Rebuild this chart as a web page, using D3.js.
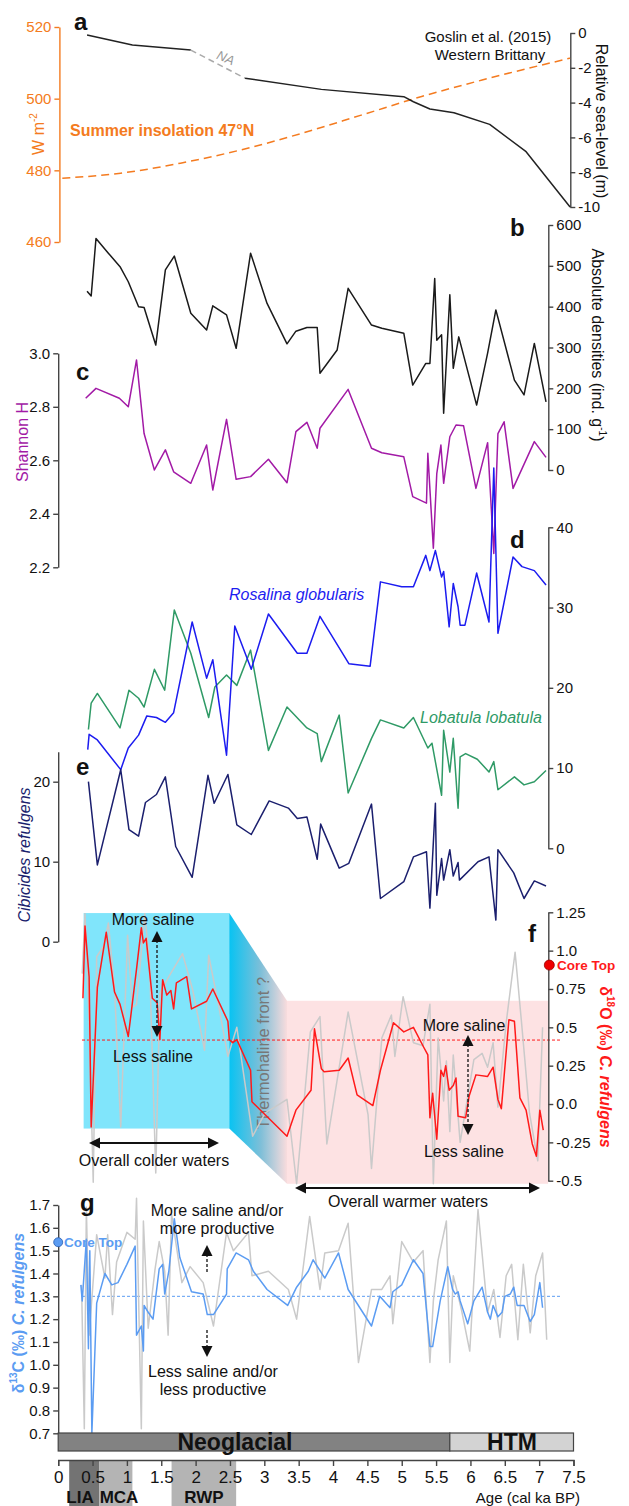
<!DOCTYPE html>
<meta charset="utf-8">
<style>
body { margin: 0; background: #fff; }
svg { font-family: "Liberation Sans", Arial, sans-serif; }
.axis path, .axis line { stroke: #444; stroke-width: 1.4; }
.axis text { fill: #111; }
.data { fill: none; stroke-width: 1.5; stroke-linejoin: round; }
</style>
<svg width="629" height="1506"></svg>
<script src="https://d3js.org/d3.v7.min.js"></script>
<script>

// ---- data (age in cal ka BP, value) ----
var ageTicks = [0, 0.5, 1, 1.5, 2, 2.5, 3, 3.5, 4, 4.5, 5, 5.5, 6, 6.5, 7, 7.5];

// a: relative sea level (Goslin et al. 2015) and summer insolation 47N
var seaLevel = [[0.42, -0.11], [1.08, -0.69], [1.93, -0.98], [2.72, -2.6], [3.83, -3.24], [5.03, -3.66],
  [5.17, -3.95], [5.41, -4.37], [5.76, -4.58], [6.28, -5.25], [6.81, -6.82], [7.45, -10]];
var seaGap = [1.93, 2.72];
var insolation = [[0.06, 477.8], [0.91, 479.2], [1.78, 482.0], [2.66, 485.7], [3.54, 490.3],
  [4.41, 495.4], [5.29, 500.6], [6.17, 505.2], [7.45, 511.3]];

// b: absolute densities
var densities = [[0.42, 438], [0.48, 426], [0.55, 567], [0.73, 531], [0.90, 498], [1.02, 461], [1.17, 400],
  [1.25, 398], [1.42, 306], [1.56, 490], [1.69, 524], [1.93, 384], [2.16, 343], [2.25, 402], [2.45, 380],
  [2.59, 298], [2.80, 531], [3.04, 408], [3.33, 309], [3.46, 340], [3.62, 349], [3.77, 349], [3.81, 237],
  [4.06, 294], [4.22, 445], [4.56, 355], [4.71, 347], [5.03, 335], [5.16, 208], [5.35, 261], [5.41, 261],
  [5.48, 469], [5.51, 318], [5.58, 331], [5.61, 139], [5.70, 429], [5.75, 249], [5.83, 326], [6.09, 159],
  [6.25, 286], [6.37, 392], [6.64, 220], [6.78, 184], [6.93, 310], [7.10, 167]];

// c: Shannon H
var shannon = [[0.40, 2.832], [0.55, 2.869], [0.89, 2.832], [1.02, 2.80], [1.14, 2.975], [1.25, 2.70],
  [1.40, 2.564], [1.56, 2.639], [1.68, 2.557], [1.93, 2.514], [2.16, 2.657], [2.25, 2.489], [2.45, 2.753],
  [2.59, 2.529], [2.80, 2.539], [3.06, 2.604], [3.33, 2.516], [3.46, 2.707], [3.62, 2.742], [3.77, 2.645],
  [3.81, 2.72], [4.22, 2.865], [4.56, 2.645], [4.71, 2.628], [5.03, 2.613], [5.16, 2.464], [5.36, 2.44],
  [5.38, 2.626], [5.46, 2.271], [5.51, 2.55], [5.57, 2.657], [5.61, 2.514], [5.70, 2.688], [5.79, 2.732],
  [5.90, 2.729], [6.08, 2.495], [6.25, 2.666], [6.34, 2.252], [6.40, 2.70], [6.49, 2.744], [6.62, 2.495],
  [6.93, 2.67], [7.10, 2.611]];

// d: Rosalina globularis and Lobatula lobatula (%)
var rosalina = [[0.43, 12.3], [0.45, 14.2], [0.57, 13.5], [0.91, 9.8], [1.02, 12.5], [1.17, 14.1],
  [1.29, 16.5], [1.43, 16.3], [1.56, 15.7], [1.68, 16.9], [1.95, 28.2], [2.16, 21.2], [2.25, 23.5],
  [2.45, 11.6], [2.57, 27.7], [2.81, 22.3], [3.06, 29.2], [3.48, 24.3], [3.62, 24.3], [3.81, 28.9],
  [4.23, 23.0], [4.54, 22.7], [4.69, 33.2], [5.00, 32.6], [5.17, 32.6], [5.35, 36.5], [5.41, 34.6],
  [5.49, 37.1], [5.58, 33.8], [5.61, 34.5], [5.69, 27.6], [5.75, 33.0], [5.82, 30.1], [5.85, 27.8],
  [5.92, 27.8], [6.09, 34.3], [6.27, 28.2], [6.34, 47.4], [6.40, 26.8], [6.62, 36.3], [6.75, 35.1],
  [6.93, 34.6], [7.10, 32.8]];
var lobatula = [[0.44, 14.8], [0.48, 18.1], [0.57, 19.3], [0.90, 15.0], [1.03, 19.7], [1.17, 18.7],
  [1.25, 17.6], [1.40, 22.3], [1.55, 19.7], [1.69, 29.7], [1.93, 24.3], [2.19, 16.3], [2.28, 20.1],
  [2.45, 21.6], [2.60, 20.3], [2.80, 24.7], [3.06, 12.2], [3.33, 17.6], [3.62, 15.0], [3.77, 14.3],
  [3.83, 10.8], [4.09, 16.6], [4.22, 6.9], [4.56, 13.7], [4.69, 16.0], [5.03, 15.0], [5.17, 16.3],
  [5.38, 12.5], [5.44, 13.1], [5.58, 6.6], [5.61, 14.7], [5.70, 9.5], [5.75, 13.7], [5.82, 5.0],
  [5.85, 11.4], [5.93, 11.8], [6.10, 11.1], [6.27, 9.5], [6.34, 10.8], [6.40, 7.3], [6.64, 8.9],
  [6.78, 7.9], [6.93, 8.3], [7.10, 9.7]];

// e: Cibicides refulgens (%)
var cibicides = [[0.44, 20.0], [0.57, 9.6], [0.91, 21.5], [1.03, 14.0], [1.17, 13.2], [1.27, 17.4],
  [1.43, 18.4], [1.56, 20.6], [1.71, 11.9], [1.95, 8.05], [2.18, 20.8], [2.27, 17.3], [2.47, 20.9],
  [2.60, 14.6], [2.81, 13.4], [3.07, 17.6], [3.35, 16.7], [3.48, 15.4], [3.62, 15.6], [3.77, 10.3],
  [3.82, 14.7], [4.09, 9.2], [4.23, 9.8], [4.56, 17.2], [4.69, 5.4], [5.03, 7.5], [5.17, 10.6],
  [5.36, 11.25], [5.41, 4.2], [5.49, 17.3], [5.51, 5.8], [5.58, 10.4], [5.61, 7.7], [5.70, 11.5],
  [5.75, 8.2], [5.82, 9.9], [5.84, 7.7], [6.11, 10.0], [6.27, 10.6], [6.37, 2.7], [6.40, 11.5],
  [6.63, 8.6], [6.78, 5.4], [6.93, 7.6], [7.10, 6.96]];

// f: d18O C. refulgens (red) and raw record (grey)
var d18O = [[0.36, 0.69], [0.39, 1.16], [0.45, 0.83], [0.48, -0.15], [0.57, 0.76], [0.70, 1.12],
  [0.82, 0.73], [0.90, 0.65], [1.02, 0.44], [1.14, 0.88], [1.21, 1.15], [1.24, 1.05], [1.28, 1.08],
  [1.37, 0.69], [1.44, 0.66], [1.48, 0.42], [1.52, 0.81], [1.58, 0.71], [1.64, 0.74], [1.68, 0.62],
  [1.72, 0.79], [1.87, 0.83], [1.94, 0.62], [2.16, 0.67], [2.25, 0.75], [2.47, 0.54], [2.49, 0.42],
  [2.54, 0.40], [2.60, 0.42], [2.80, 0.22], [2.82, 0.015], [3.33, -0.21], [3.46, -0.04], [3.68, 0.09],
  [3.73, 0.49], [3.83, 0.23], [3.87, 0.21], [4.09, 0.22], [4.22, 0.30], [4.35, 0.06], [4.58, -0.01],
  [4.69, 0.22], [4.88, 0.53], [5.03, 0.47], [5.17, 0.50], [5.32, 0.37], [5.38, 0.32], [5.41, -0.09],
  [5.45, 0.07], [5.51, -0.23], [5.57, 0.22], [5.61, 0.18], [5.64, 0.25], [5.69, 0.09], [5.75, 0.12],
  [5.79, 0.17], [5.82, -0.08], [5.93, -0.09], [5.98, 0.05], [6.08, 0.19], [6.25, 0.18], [6.33, 0.24],
  [6.40, 0.03], [6.45, -0.03], [6.56, 0.55], [6.64, 0.54], [6.72, 0.04], [6.81, -0.04], [6.90, -0.26],
  [6.96, -0.34], [7.01, -0.04], [7.06, -0.17]];
var d18ORaw = [[0.35, 0.85], [0.39, 1.24], [0.45, 0.55], [0.51, -0.51], [0.56, 0.96], [0.66, 1.03],
  [0.73, 1.18], [0.82, 0.76], [0.91, -0.15], [1.01, 1.10], [1.08, 0.63], [1.14, 0.65], [1.26, 1.24],
  [1.33, 0.92], [1.42, -0.45], [1.48, 0.72], [1.61, 0.83], [1.81, 0.98], [1.96, 0.74], [2.13, 0.35],
  [2.19, 0.97], [2.34, 0.63], [2.47, 0.31], [2.60, 0.50], [2.83, -0.21], [3.01, -0.06], [3.33, 0.03],
  [3.47, -0.52], [3.67, 0.47], [3.81, 0.57], [3.91, -0.26], [4.22, 0.60], [4.51, -0.07], [4.56, -0.42],
  [4.71, 0.43], [4.85, 0.58], [4.90, 0.31], [5.02, 0.70], [5.17, 0.40], [5.31, 0.38], [5.41, 0.65],
  [5.46, -0.52], [5.53, 0.43], [5.61, 0.02], [5.65, 0.28], [5.70, -0.18], [5.75, 0.32], [5.85, -0.25],
  [6.05, 0.29], [6.17, 0.33], [6.25, 0.24], [6.33, 0.40], [6.40, -0.02], [6.52, 0.53], [6.65, 0.99],
  [6.75, 0.50], [6.86, -0.06], [6.98, -0.37], [7.05, 0.50]];
var d18OMean = 0.417, d18OCoreTop = 0.906;
var coldZone = [0.37, 2.49, -0.16, 1.245];   // age from, age to, value from, value to
var warmZone = [3.33, 7.13, -0.52, 0.673];

// g: d13C C. refulgens (blue) and raw record (grey)
var d13C = [[0.33, 1.35], [0.35, 1.28], [0.41, 1.55], [0.44, 1.07], [0.46, 1.50], [0.49, 0.70],
  [0.56, 1.27], [0.68, 1.40], [0.78, 1.35], [0.87, 1.36], [1.00, 1.44], [1.12, 1.52], [1.14, 1.13],
  [1.21, 1.17], [1.24, 1.06], [1.25, 1.26], [1.31, 1.23], [1.38, 1.20], [1.47, 1.42], [1.52, 1.44],
  [1.55, 1.31], [1.61, 1.41], [1.69, 1.64], [1.77, 1.47], [1.94, 1.32], [2.11, 1.31], [2.17, 1.22],
  [2.26, 1.22], [2.45, 1.31], [2.46, 1.42], [2.59, 1.49], [2.77, 1.46], [2.84, 1.41], [3.04, 1.33],
  [3.34, 1.26], [3.47, 1.34], [3.64, 1.41], [3.71, 1.46], [3.88, 1.38], [4.08, 1.49], [4.22, 1.33],
  [4.56, 1.17], [4.68, 1.30], [4.83, 1.25], [4.87, 1.32], [5.00, 1.35], [5.17, 1.46], [5.31, 1.40],
  [5.41, 1.08], [5.45, 1.08], [5.56, 1.28], [5.67, 1.43], [5.74, 1.33], [5.78, 1.31], [5.82, 1.32],
  [5.85, 1.28], [5.96, 1.18], [6.05, 1.28], [6.17, 1.34], [6.25, 1.23], [6.29, 1.20], [6.33, 1.26],
  [6.40, 1.21], [6.46, 1.23], [6.50, 1.30], [6.58, 1.31], [6.63, 1.34], [6.68, 1.26], [6.78, 1.26],
  [6.87, 1.19], [6.93, 1.22], [7.01, 1.36], [7.05, 1.25]];
var d13CRaw = [[0.34, 1.35], [0.38, 0.72], [0.41, 1.69], [0.45, 1.13], [0.56, 1.57], [0.68, 1.38],
  [0.72, 1.57], [0.79, 1.22], [0.85, 1.45], [1.00, 1.58], [1.12, 1.55], [1.14, 1.73], [1.21, 0.72],
  [1.24, 1.63], [1.31, 1.16], [1.41, 1.42], [1.47, 1.54], [1.55, 1.41], [1.60, 1.13], [1.65, 1.66],
  [1.80, 1.36], [1.92, 1.43], [2.11, 1.36], [2.26, 1.17], [2.45, 1.58], [2.55, 1.50], [2.77, 1.58],
  [2.82, 1.39], [3.06, 1.41], [3.35, 1.33], [3.47, 1.20], [3.66, 1.65], [3.81, 1.33], [3.88, 1.49],
  [4.08, 1.50], [4.22, 1.62], [4.37, 1.01], [4.56, 1.33], [4.71, 1.33], [4.83, 1.39], [4.87, 1.18],
  [5.00, 1.54], [5.17, 1.45], [5.31, 1.50], [5.41, 1.01], [5.46, 1.28], [5.53, 1.46], [5.65, 1.63],
  [5.70, 1.01], [5.75, 1.39], [5.80, 1.33], [5.87, 1.24], [5.99, 1.06], [6.11, 1.68], [6.25, 1.23],
  [6.34, 1.33], [6.43, 1.12], [6.52, 1.39], [6.60, 1.44], [6.69, 1.11], [6.77, 1.44], [6.87, 1.14],
  [6.95, 1.39], [7.05, 1.49], [7.11, 1.11]];
var d13CMean = 1.30, d13CCoreTop = 1.537;

// climatic periods
var stageNames = ["Neoglacial", "HTM"], stageStart = [0, 5.7], stageEnd = [5.7, 7.5];
var periodNames = ["LIA", "MCA", "RWP"], periodStart = [0.16, 0.60, 1.65], periodEnd = [0.60, 1.08, 2.59];

// ---- drawing ----
var svg = d3.select("svg");

var x = d3.scaleLinear().domain([0, 7.5]).range([58.2, 573.5]);
var xLeft = 58.2, xRight = 548.3;

var yIns = d3.scaleLinear().domain([460, 520]).range([242, 27]),
    ySea = d3.scaleLinear().domain([-10, 0]).range([207, 33]),
    yDen = d3.scaleLinear().domain([0, 600]).range([470, 225]),
    yH = d3.scaleLinear().domain([2.2, 3.0]).range([567.3, 353.3]),
    yD = d3.scaleLinear().domain([0, 40]).range([848.3, 527.3]),
    yE = d3.scaleLinear().domain([0, 23.75]).range([941.7, 751.7]),
    yF = d3.scaleLinear().domain([-0.5, 1.25]).range([1180.7, 912.3]),
    yG = d3.scaleLinear().domain([0.7, 1.7]).range([1433.3, 1205]);

var orange = "#f47b20", redC = "#ff1a1a", blueG = "#5b9cf2", greyRaw = "#cacaca";

function lineFor(y, curve) {
  var l = d3.line().x(function(d) { return x(d[0]); }).y(function(d) { return y(d[1]); });
  if (curve) l.curve(curve);
  return l;
}

function drawAxis(axis, tx, color, size) {
  var g = svg.append("g").attr("class", "axis")
      .attr("transform", "translate(" + tx + ",0)")
      .call(axis)
      .attr("font-size", size || 15).attr("font-family", null);
  if (color) {
    g.selectAll("path, line").style("stroke", color);
    g.selectAll("text").style("fill", color);
  }
  return g;
}

function txt(s, px, py, opts) {
  opts = opts || {};
  var t = svg.append("text").attr("x", px).attr("y", py).text(s)
      .attr("font-size", opts.size || 16)
      .attr("fill", opts.color || "#111")
      .attr("text-anchor", opts.anchor || "start");
  if (opts.bold) t.attr("font-weight", "bold");
  if (opts.italic) t.attr("font-style", "italic");
  if (opts.rotate) t.attr("transform", "rotate(" + opts.rotate + "," + px + "," + py + ")");
  return t;
}

function head(px, py, dir) {
  // dir: "up","down","left","right"
  var w = 5.5, h = 11, p;
  if (dir === "up") p = [[px, py], [px - w, py + h], [px + w, py + h]];
  if (dir === "down") p = [[px, py], [px - w, py - h], [px + w, py - h]];
  if (dir === "left") p = [[px, py], [px + h, py - w], [px + h, py + w]];
  if (dir === "right") p = [[px, py], [px - h, py - w], [px - h, py + w]];
  svg.append("polygon").attr("points", p.map(function(q) { return q.join(","); }).join(" "))
     .attr("fill", "#111");
}

function vArrow(px, y1, y2, dashed) {
  svg.append("line").attr("x1", px).attr("x2", px).attr("y1", y1 + 9).attr("y2", y2 - 9)
     .attr("stroke", "#222").attr("stroke-width", 1.4)
     .attr("stroke-dasharray", dashed ? "3,2" : null);
}

function hArrow(x1, x2, py) {
  svg.append("line").attr("x1", x1 + 9).attr("x2", x2 - 9).attr("y1", py).attr("y2", py)
     .attr("stroke", "#111").attr("stroke-width", 2);
  head(x1, py, "left");
  head(x2, py, "right");
}

// ===== panel a =====
drawAxis(d3.axisLeft(yIns).tickValues([460, 480, 500, 520]).tickSize(5).tickSizeOuter(0), 59.4, orange);
drawAxis(d3.axisRight(ySea).tickValues([0, -2, -4, -6, -8, -10]).tickSize(5).tickSizeOuter(0)
  .tickFormat(function(d) { return String(d); }), 570.3);

svg.append("path").datum(insolation).attr("class", "data")
   .attr("d", lineFor(yIns, d3.curveMonotoneX))
   .attr("stroke", orange).attr("stroke-width", 2.2).attr("stroke-dasharray", "8,5");

svg.append("path").datum(seaLevel.filter(function(d) { return d[0] <= seaGap[0]; })).attr("class", "data")
   .attr("d", lineFor(ySea)).attr("stroke", "#222");
svg.append("path").datum(seaLevel.filter(function(d) { return d[0] >= seaGap[1]; })).attr("class", "data")
   .attr("d", lineFor(ySea)).attr("stroke", "#222");
svg.append("path").datum(seaLevel.filter(function(d) { return d[0] >= seaGap[0] && d[0] <= seaGap[1]; }))
   .attr("class", "data").attr("d", lineFor(ySea))
   .attr("stroke", "#aaa").attr("stroke-dasharray", "6,4");

txt("NA", 224, 62, {size: 13, italic: true, color: "#999", anchor: "middle", rotate: 22});
txt("a", 74, 30, {size: 24, bold: true});
txt("Goslin et al. (2015)", 488, 42, {size: 15, anchor: "middle"});
txt("Western Brittany", 490, 60, {size: 15, anchor: "middle"});
txt("Summer insolation 47°N", 70, 136, {size: 16, bold: true, color: orange});
var wm = txt("W m", 44, 134, {size: 16, color: orange, anchor: "middle", rotate: -90});
wm.append("tspan").attr("font-size", 10).attr("dy", -7).text("-2");
txt("Relative sea-level (m)", 596, 121, {size: 16, anchor: "middle", rotate: 90});

// ===== panel b =====
drawAxis(d3.axisRight(yDen).tickValues([0, 100, 200, 300, 400, 500, 600]).tickSize(5).tickSizeOuter(0), xRight);
svg.append("path").datum(densities).attr("class", "data").attr("d", lineFor(yDen)).attr("stroke", "#1a1a1a");
txt("b", 510, 236, {size: 24, bold: true});
var ad = txt("Absolute densities (ind. g", 592, 345, {size: 16, anchor: "middle", rotate: 90});
ad.append("tspan").attr("font-size", 10).attr("dy", -7).text("-1");
ad.append("tspan").attr("dy", 7).text(")");

// ===== panel c =====
drawAxis(d3.axisLeft(yH).tickValues([2.2, 2.4, 2.6, 2.8, 3.0]).tickSize(5).tickSizeOuter(0)
  .tickFormat(d3.format(".1f")), xLeft);
svg.append("path").datum(shannon).attr("class", "data").attr("d", lineFor(yH)).attr("stroke", "#a21aa6");
txt("c", 76, 380, {size: 24, bold: true});
txt("Shannon H", 28, 442, {size: 16, color: "#a21aa6", anchor: "middle", rotate: -90});

// ===== panel d =====
drawAxis(d3.axisRight(yD).tickValues([0, 10, 20, 30, 40]).tickSize(5).tickSizeOuter(0), xRight);
svg.append("path").datum(lobatula).attr("class", "data").attr("d", lineFor(yD)).attr("stroke", "#2f9a66");
svg.append("path").datum(rosalina).attr("class", "data").attr("d", lineFor(yD)).attr("stroke", "#1c1cf0");
txt("d", 510, 548, {size: 24, bold: true});
txt("Rosalina globularis", 229, 600, {size: 16, italic: true, color: "#1c1cf0"});
txt("Lobatula lobatula", 420, 723, {size: 16, italic: true, color: "#2f9a66"});

// ===== panel e =====
drawAxis(d3.axisLeft(yE).tickValues([0, 10, 20]).tickSize(5).tickSizeOuter(0), xLeft);
svg.append("path").datum(cibicides).attr("class", "data").attr("d", lineFor(yE)).attr("stroke", "#1b1f6e");
txt("e", 76, 775, {size: 24, bold: true});
txt("Cibicides refulgens", 30, 855, {size: 16, italic: true, color: "#1b1f6e", anchor: "middle", rotate: -90});

// ===== panel f =====
var defs = svg.append("defs");
var grad = defs.append("linearGradient").attr("id", "front").attr("x1", "0").attr("x2", "1").attr("y1", "0").attr("y2", "0");
grad.append("stop").attr("offset", "0").attr("stop-color", "#08c3f2");
grad.append("stop").attr("offset", "0.55").attr("stop-color", "#7fbfd8");
grad.append("stop").attr("offset", "1").attr("stop-color", "#f9dcdd");

svg.append("rect").attr("x", x(coldZone[0])).attr("width", x(coldZone[1]) - x(coldZone[0]))
   .attr("y", yF(coldZone[3])).attr("height", yF(coldZone[2]) - yF(coldZone[3]))
   .attr("fill", "#80e5fb");
svg.append("polygon").attr("points", [
    [x(coldZone[1]), yF(coldZone[3])], [x(warmZone[0]), yF(warmZone[3])],
    [x(warmZone[0]), yF(warmZone[2])], [x(coldZone[1]), yF(coldZone[2])]
  ].map(function(q) { return q.join(","); }).join(" "))
   .attr("fill", "url(#front)");
svg.append("rect").attr("x", x(warmZone[0])).attr("width", x(warmZone[1]) - x(warmZone[0]))
   .attr("y", yF(warmZone[3])).attr("height", yF(warmZone[2]) - yF(warmZone[3]))
   .attr("fill", "#fde2e3");

txt("Thermohaline front ?", 269, 1053, {size: 16.5, color: "#777", anchor: "middle", rotate: -90});

svg.append("line").attr("x1", 82).attr("x2", 560).attr("y1", yF(d18OMean)).attr("y2", yF(d18OMean))
   .attr("stroke", redC).attr("stroke-width", 1).attr("stroke-dasharray", "3,2");
svg.append("path").datum(d18ORaw).attr("class", "data").attr("d", lineFor(yF))
   .attr("stroke", greyRaw).attr("stroke-width", 0.7);
svg.append("path").datum(d18O).attr("class", "data").attr("d", lineFor(yF)).attr("stroke", redC).attr("stroke-width", 1.6);

drawAxis(d3.axisRight(yF).tickValues([-0.5, -0.25, 0, 0.25, 0.5, 0.75, 1.0, 1.25]).tickSize(5).tickSizeOuter(0)
  .tickFormat(function(d) { return d === 0 ? "0.0" : d === 1 ? "1.0" : String(d); }), xRight);

svg.append("circle").attr("cx", xRight + 1).attr("cy", yF(d18OCoreTop)).attr("r", 5)
   .attr("fill", "#e00").attr("stroke", "#900").attr("stroke-width", 0.8);
txt("Core Top", 557, yF(d18OCoreTop) + 5, {size: 13.5, bold: true, color: redC});
txt("f", 528, 942, {size: 24, bold: true});
var fo = txt("δ", 600, 1067, {size: 16, bold: true, color: redC, anchor: "middle", rotate: 90});
fo.append("tspan").attr("font-size", 10).attr("dy", -7).text("18");
fo.append("tspan").attr("dy", 7).text("O (‰) ");
fo.append("tspan").attr("font-style", "italic").text("C. refulgens");

txt("More saline", 153, 925, {size: 16, anchor: "middle"});
txt("Less saline", 153, 1062, {size: 16, anchor: "middle"});
vArrow(157, 931, 1037, true); head(157, 931, "up"); head(157, 1037, "down");
txt("More saline", 464, 1031, {size: 16, anchor: "middle"});
txt("Less saline", 464, 1157, {size: 16, anchor: "middle"});
vArrow(468, 1035, 1135, true); head(468, 1035, "up"); head(468, 1135, "down");
hArrow(89, 219, 1143);
txt("Overall colder waters", 154, 1166, {size: 16, anchor: "middle"});
hArrow(295, 540, 1188);
txt("Overall warmer waters", 408, 1207, {size: 16, anchor: "middle"});

// ===== panel g =====
svg.append("line").attr("x1", 82).attr("x2", 560).attr("y1", yG(d13CMean)).attr("y2", yG(d13CMean))
   .attr("stroke", blueG).attr("stroke-width", 1).attr("stroke-dasharray", "3,2");
svg.append("path").datum(d13CRaw).attr("class", "data").attr("d", lineFor(yG))
   .attr("stroke", greyRaw).attr("stroke-width", 0.7);
svg.append("path").datum(d13C).attr("class", "data").attr("d", lineFor(yG)).attr("stroke", blueG).attr("stroke-width", 1.6);
drawAxis(d3.axisLeft(yG).tickValues(d3.range(7, 18).map(function(d) { return d / 10; })).tickSize(5).tickSizeOuter(0)
  .tickFormat(d3.format(".1f")), xLeft);
svg.append("circle").attr("cx", xLeft).attr("cy", yG(d13CCoreTop)).attr("r", 4.5)
   .attr("fill", blueG).attr("stroke", "#2a5db0").attr("stroke-width", 0.8);
txt("Core Top", 64, yG(d13CCoreTop) + 5, {size: 13.5, bold: true, color: blueG});
txt("g", 80, 1211, {size: 24, bold: true});
var gc = txt("δ", 24, 1313, {size: 16, bold: true, color: blueG, anchor: "middle", rotate: -90});
gc.append("tspan").attr("font-size", 10).attr("dy", -7).text("13");
gc.append("tspan").attr("dy", 7).text("C (‰) ");
gc.append("tspan").attr("font-style", "italic").text("C. refulgens");

txt("More saline and/or", 217, 1216, {size: 16, anchor: "middle"});
txt("more productive", 217, 1234, {size: 16, anchor: "middle"});
vArrow(207, 1245, 1281, true); head(207, 1245, "up");
svg.append("line").attr("x1", 207).attr("x2", 207).attr("y1", 1330).attr("y2", 1347)
   .attr("stroke", "#222").attr("stroke-width", 1.4).attr("stroke-dasharray", "3,2");
head(207, 1357, "down");
txt("Less saline and/or", 213, 1377, {size: 16, anchor: "middle"});
txt("less productive", 213, 1395, {size: 16, anchor: "middle"});

// ===== stages bar and age axis =====
svg.selectAll(".stage").data(stageNames).enter().append("rect")
   .attr("x", function(d, i) { return x(stageStart[i]); })
   .attr("width", function(d, i) { return x(stageEnd[i]) - x(stageStart[i]); })
   .attr("y", 1433).attr("height", 18)
   .attr("fill", function(d, i) { return i === 0 ? "#828282" : "#d3d3d3"; })
   .attr("stroke", "#444").attr("stroke-width", 1.2);
txt("Neoglacial", 235, 1450, {size: 23, bold: true, anchor: "middle"});
txt("HTM", 512, 1450, {size: 23, bold: true, anchor: "middle"});

svg.selectAll(".period").data(periodNames).enter().append("rect")
   .attr("x", function(d, i) { return x(periodStart[i]); })
   .attr("width", function(d, i) { return x(periodEnd[i]) - x(periodStart[i]); })
   .attr("y", 1461).attr("height", 45)
   .attr("fill", function(d, i) { return i === 0 ? "#737373" : "#b4b4b4"; });

drawAxis(d3.axisBottom(x).tickValues(ageTicks).tickSize(6).tickPadding(5)
  .tickFormat(function(d) { return String(d); }), 0, null, 17)
  .attr("transform", "translate(0,1460)");

txt("LIA", 80, 1503, {size: 17, bold: true, anchor: "middle"});
txt("MCA", 119, 1503, {size: 17, bold: true, anchor: "middle"});
txt("RWP", 204, 1503, {size: 17, bold: true, anchor: "middle"});
txt("Age (cal ka BP)", 580, 1503, {size: 15, anchor: "end"});

</script>
